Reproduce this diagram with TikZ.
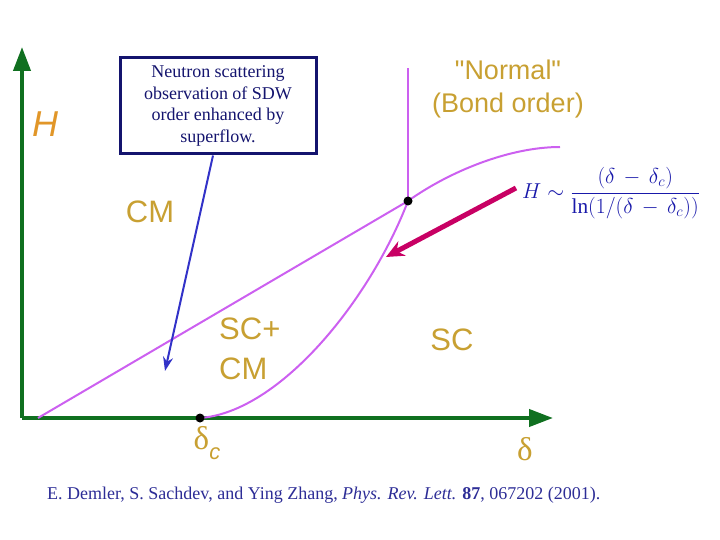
\documentclass[tikz,border=0pt]{standalone}
\usepackage{fontspec}
\setmainfont{Liberation Serif}
\newfontfamily\labfont{Liberation Sans}
\usetikzlibrary{arrows.meta}
\definecolor{axisgreen}{RGB}{16,112,32}
\definecolor{phaseline}{RGB}{204,96,240}
\definecolor{labgold}{RGB}{200,160,50}
\definecolor{hgold}{RGB}{225,150,40}
\definecolor{boxnavy}{RGB}{20,20,110}
\definecolor{citeblue}{RGB}{45,45,150}
\definecolor{arrowblue}{RGB}{50,50,200}
\definecolor{magarrow}{RGB}{200,0,100}
\definecolor{formblue}{RGB}{25,25,170}
\begin{document}
\begin{tikzpicture}[x=1pt, y=-1pt,
    axis/.style={axisgreen, line width=4pt, -{Triangle[length=24pt, width=17pt]}},
    phase/.style={phaseline, line width=2pt},
    region/.style={font=\labfont\fontsize{31}{37}\selectfont, text=labgold, inner sep=0pt},
    notebox/.style={draw=boxnavy, line width=3pt, minimum width=196pt, minimum height=96pt,
                    align=center, text=boxnavy, font=\fontsize{18}{21.5}\selectfont},
    notearr/.style={arrowblue, line width=2pt, -{Stealth[length=14pt, width=10pt]}},
    lawarr/.style={magarrow, line width=5pt, -{Stealth[length=18pt, width=16pt]}},
  ]
  \useasboundingbox (0,0) rectangle (720,540);
  % axes
  \coordinate (origin) at (22,418);
  \coordinate (ytip)   at (22,47);
  \coordinate (xtip)   at (553,418);
  \draw[axis] (origin) -- (ytip);
  \draw[axis] (origin) -- (xtip);
  % phase boundaries
  \coordinate (cmstart) at (38,418);
  \coordinate (dc)      at (200,418);
  \coordinate (tri)     at (408,201);
  \coordinate (ntop)    at (408,68);
  \coordinate (nend)    at (560,147);
  \draw[phase] (cmstart) -- (tri) .. controls (450,171) and (510,147) .. (nend);
  \draw[phase] (tri) -- (ntop);
  \draw[phase] (dc) .. controls (280,412) and (370,300) .. (tri);
  \fill (dc) circle (4.5);
  \fill (tri) circle (4.5);
  % labels
  \node[font=\labfont\itshape\fontsize{36}{40}\selectfont, text=hgold] (hlab) at (45,124) {H};
  \node[region] (cm) at (150,212) {CM};
  \node[region, align=left, anchor=west, font=\labfont\fontsize{31}{40}\selectfont] (sccm) at (219,349) {SC+\\CM};
  \node[region] (sc) at (452,340) {SC};
  \node[region, align=center, font=\labfont\fontsize{27}{33}\selectfont] (normal) at (508,89) {"Normal"\\(Bond order)};
  \node[text=labgold, font=\fontsize{33}{36}\selectfont, inner sep=0pt] (dclab) at (207,443)
    {δ\raisebox{-0.3em}{\labfont\itshape\fontsize{22}{24}\selectfont c}};
  \node[text=labgold, font=\fontsize{33}{36}\selectfont, inner sep=0pt] (dlab) at (525,449) {δ};
  % box and arrows
  \node[notebox] (note) at (218,106)
    {Neutron scattering\\observation of SDW\\order enhanced by\\superflow.};
  \coordinate (scmtip) at (165,371);
  \draw[notearr] ([xshift=-5pt]note.south) -- (scmtip);
  \node[text=formblue, anchor=west, inner sep=0pt] (law) at (522,193)
    {\scalebox{1.25}{\fontsize{17}{20}\selectfont
     $H\sim\displaystyle\frac{(\delta\,-\,\delta_c)}{\ln\Bigl(1/\bigl(\delta\,-\,\delta_c\bigr)\Bigr)}$}};
  \coordinate (lawtip) at (386,257);
  \draw[lawarr] ([shift={(-6pt,5pt)}]law.west) -- (lawtip);
  % reference
  \node[anchor=base west, text=citeblue, font=\fontsize{18}{21}\selectfont, inner sep=0pt] (cite) at (47,499)
    {E. Demler, S. Sachdev, and Ying Zhang, \textit{Phys. Rev. Lett.} \textbf{87}, 067202 (2001).};
\end{tikzpicture}
\end{document}
